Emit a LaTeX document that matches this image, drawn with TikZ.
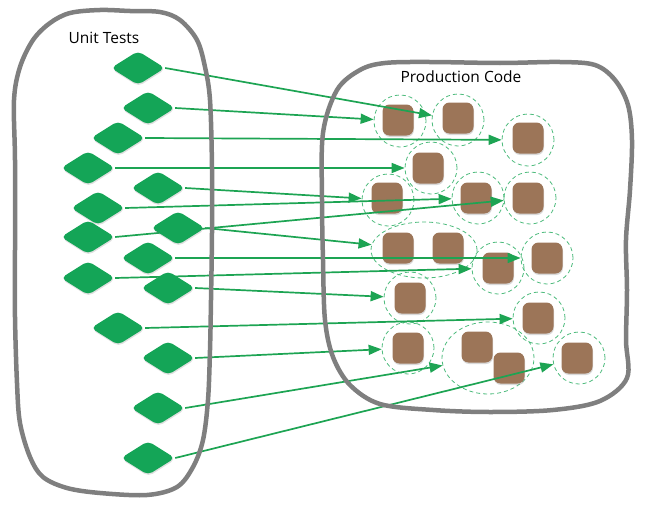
\documentclass[tikz,border=0pt]{standalone}
\usepackage{fontspec}
\setmainfont{Open Sans}
\usetikzlibrary{shapes.geometric,arrows.meta,shadows}
\definecolor{tgreen}{HTML}{14A557}
\definecolor{agreen}{HTML}{1DA453}
\definecolor{cgreen}{HTML}{4DBB7C}
\definecolor{brownsq}{HTML}{9C7558}
\definecolor{blobgray}{HTML}{7F7F7F}
\pgfdeclarelayer{bg}\pgfdeclarelayer{fg}\pgfsetlayers{bg,main,fg}
\begin{document}
\begin{tikzpicture}[x=1pt,y=-1pt,
  testd/.style={diamond, fill=tgreen, minimum width=54pt, minimum height=34pt, inner sep=0pt,
    rounded corners=5pt, drop shadow={opacity=0.25, shadow xshift=0.5pt, shadow yshift=-1.5pt}},
  codesq/.style={rectangle, fill=brownsq, minimum size=31pt, inner sep=0pt, rounded corners=7pt,
    drop shadow={opacity=0.3, shadow xshift=0.5pt, shadow yshift=-1.5pt}},
  halo/.style={circle, draw=cgreen, line width=0.8pt, dash pattern=on 4pt off 3pt, minimum size=52pt, inner sep=0pt},
  haloe/.style={ellipse, draw=cgreen, line width=0.8pt, dash pattern=on 4pt off 3pt, inner sep=0pt},
  link/.style={draw=agreen, line width=1.7pt, -{Triangle[length=13pt,width=10pt]}},
  blob/.style={draw=blobgray, line width=4.5pt, line join=round},
  lbl/.style={font=\fontsize{15.5}{18}\selectfont, text=black, inner sep=0pt}
]
\useasboundingbox (0,0) rectangle (646,506);

% production code: halos and squares
\begin{pgfonlayer}{bg}
\node[halo] (c1) at (400,121) {};
\node[halo] (c2) at (458,120) {};
\node[halo] (c3) at (528,140) {};
\node[halo] (c4) at (431,168) {};
\node[halo] (c5) at (388,200) {};
\node[halo] (c6) at (478,198) {};
\node[halo] (c7) at (530,198) {};
\node[haloe, minimum width=106pt, minimum height=56pt] (e89) at (424,250) {};
\node[halo] (c10) at (498,268) {};
\node[halo] (c11) at (547,258) {};
\node[halo] (c12) at (410,298) {};
\node[halo] (c13) at (539,318) {};
\node[halo] (c14) at (408,348) {};
\node[haloe, minimum width=92pt, minimum height=72pt] (e1516) at (488,358) {};
\node[halo] (c17) at (579,358) {};

\node[codesq] (s1) at (398,120) {};
\node[codesq] (s2) at (458,118) {};
\node[codesq] (s3) at (528,138) {};
\node[codesq] (s4) at (428,168) {};
\node[codesq] (s5) at (387,198) {};
\node[codesq] (s6) at (476,198) {};
\node[codesq] (s7) at (528,198) {};
\node[codesq] (s8) at (398,248) {};
\node[codesq] (s9) at (448,248) {};
\node[codesq] (s10) at (498,268) {};
\node[codesq] (s11) at (547,258) {};
\node[codesq] (s12) at (410,298) {};
\node[codesq] (s13) at (538,318) {};
\node[codesq] (s14) at (408,348) {};
\node[codesq] (s15) at (477,347) {};
\node[codesq] (s16) at (509,368) {};
\node[codesq] (s17) at (577,358) {};
\end{pgfonlayer}

% unit tests
\begin{pgfonlayer}{fg}
\node[testd] (d1) at (138,68) {};
\node[testd] (d2) at (148,108) {};
\node[testd] (d3) at (118,138) {};
\node[testd] (d4) at (88,168) {};
\node[testd] (d5) at (158,188) {};
\node[testd] (d6) at (98,208) {};
\node[testd] (d7) at (88,237) {};
\node[testd] (d8) at (178,228) {};
\node[testd] (d9) at (148,258) {};
\node[testd] (d10) at (88,278) {};
\node[testd] (d11) at (168,288) {};
\node[testd] (d12) at (118,328) {};
\node[testd] (d13) at (168,358) {};
\node[testd] (d14) at (158,408) {};
\node[testd] (d15) at (148,458) {};
\end{pgfonlayer}

% links
\draw[link] (d1.east) -- (c2);
\draw[link] (d2.east) -- (c1);
\draw[link] (d3.east) -- (c3);
\draw[link] (d4.east) -- (c4);
\draw[link] (d5.east) -- (c5);
\draw[link] (d6.east) -- (c6);
\draw[link] (d7.east) -- (c7);
\draw[link] (d8.east) -- (e89);
\draw[link] (d9.east) -- (c11);
\draw[link] (d10.east) -- (c10);
\draw[link] (d11.east) -- (c12);
\draw[link] (d12.east) -- (c13);
\draw[link] (d13.east) -- (c14);
\draw[link] (d14.east) -- (e1516);
\draw[link] (d15.east) -- (c17);

% outlines
\draw[blob] plot[smooth cycle, tension=0.55] coordinates {
  (15,250) (15,160) (14,100) (20,67) (33,40) (50,23) (70,13) (100,10) (130,11) (160,12)
  (180,20) (197,40) (205,67) (210,100) (212,167) (212,233) (211,300) (210,350) (208,400)
  (203,440) (193,467) (177,487) (147,495) (100,493) (67,488) (43,477) (30,457) (20,423)
  (17,383) (15,317)};
\draw[blob] plot[smooth cycle, tension=0.55] coordinates {
  (322,200) (323,133) (337,90) (360,70) (385,63) (430,62) (500,63) (560,62) (595,65)
  (615,80) (628,105) (632,140) (630,190) (626,240) (627,290) (626,340) (627,378)
  (600,401) (553,410) (490,412) (433,410) (380,404) (350,385) (333,357) (325,320) (323,260)};

\node[lbl] (ut) at (104,38) {Unit Tests};
\node[lbl] (pc) at (461,77) {Production Code};
\end{tikzpicture}
\end{document}
